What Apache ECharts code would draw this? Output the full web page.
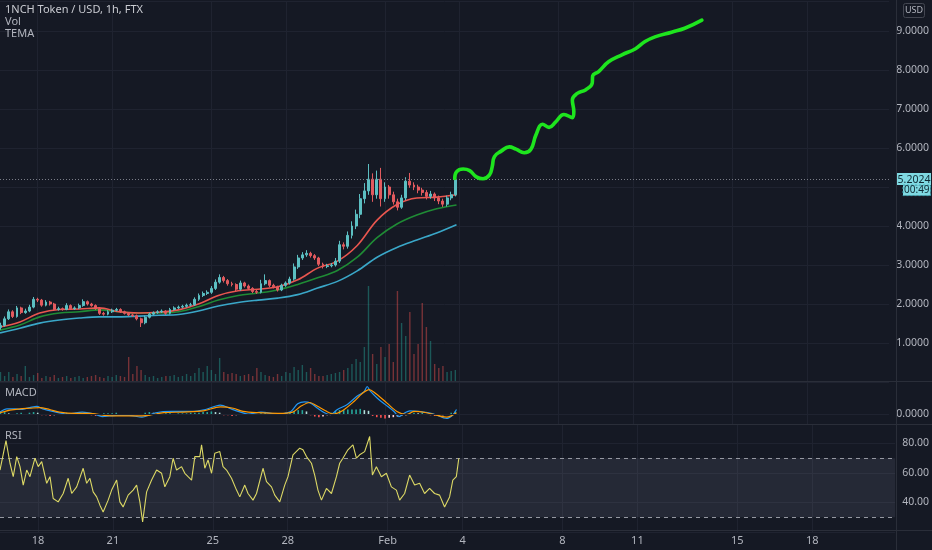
<!DOCTYPE html>
<html><head><meta charset="utf-8">
<script src="https://cdn.jsdelivr.net/npm/echarts@6/dist/echarts.min.js"></script>
<style>html,body{margin:0;padding:0;background:#151924;}#c{width:932px;height:550px;}</style>
</head><body><div id="c"></div><script>
// ---------- DATA ----------
const titleText = '1NCH Token / USD, 1h, FTX';
const firstCandleDay = 16.5;           // Jan 16, 12:00
const candleStepDays = 1 / 6;          // 4-hour aggregation
const opens = [1.40,1.45,1.62,1.80,1.68,1.90,1.78,1.82,1.92,2.12, 2.10,1.97,2.05,2.00,1.86,1.88,1.86,1.96,1.88,1.90, 1.96,2.06,2.00,1.96,1.88,1.76,1.74,1.80,1.84,1.86, 1.80,1.76,1.72,1.70,1.62,1.52,1.66,1.74,1.78,1.80, 1.82,1.76,1.86,1.90,1.92,1.94,1.97,1.98,2.12,2.22, 2.27,2.30,2.40,2.56,2.68,2.60,2.52,2.50,2.38,2.54, 2.46,2.40,2.32,2.30,2.52,2.60,2.48,2.44,2.36,2.48, 2.54,2.64,2.95,3.18,3.26,3.30,3.24,3.18,3.02,2.96, 2.98,3.00,3.10,3.52,3.48,3.76,4.00,4.30,4.70,4.90, 5.20,4.80,5.20,4.70,5.00,4.80,4.62,4.48,4.72,5.15, 5.05,5.00,4.92,4.86,4.76,4.82,4.72,4.64,4.56,4.72, 4.80];
const closes = [1.45,1.62,1.80,1.68,1.90,1.78,1.82,1.92,2.12,2.10, 1.97,2.05,2.00,1.86,1.88,1.86,1.96,1.88,1.90,1.96, 2.06,2.00,1.96,1.88,1.76,1.74,1.80,1.84,1.86,1.80, 1.76,1.72,1.70,1.62,1.52,1.66,1.74,1.78,1.80,1.82, 1.76,1.86,1.90,1.92,1.94,1.97,1.98,2.12,2.22,2.27, 2.30,2.40,2.56,2.68,2.60,2.52,2.50,2.38,2.54,2.46, 2.40,2.32,2.30,2.52,2.60,2.48,2.44,2.36,2.48,2.54, 2.64,2.95,3.18,3.26,3.30,3.24,3.18,3.02,2.96,2.98, 3.00,3.10,3.52,3.48,3.76,4.00,4.30,4.70,4.90,5.20, 4.80,5.20,4.70,5.00,4.80,4.62,4.48,4.72,5.15,5.05, 5.00,4.92,4.86,4.76,4.82,4.72,4.64,4.56,4.72,4.80, 5.2024];
const highs = [1.52,1.68,1.86,1.84,1.95,1.93,1.88,1.98,2.18,2.16, 2.13,2.10,2.08,2.03,1.93,1.91,2.02,1.99,1.94,2.01, 2.12,2.09,2.03,1.99,1.91,1.80,1.84,1.88,1.90,1.89, 1.83,1.79,1.75,1.73,1.65,1.70,1.78,1.81,1.84,1.86, 1.84,1.90,1.94,1.96,1.98,2.01,2.03,2.17,2.27,2.32, 2.35,2.46,2.63,2.76,2.72,2.64,2.57,2.53,2.60,2.57, 2.50,2.43,2.36,2.62,2.76,2.63,2.52,2.47,2.52,2.58, 2.70,3.04,3.26,3.33,3.38,3.34,3.28,3.21,3.06,3.03, 3.05,3.18,3.62,3.58,3.86,4.12,4.42,4.82,5.10,5.59, 5.35,5.42,5.49,5.12,5.05,4.88,4.70,4.80,5.25,5.36, 5.12,5.06,4.98,4.92,4.90,4.86,4.78,4.70,4.78,4.88, 5.26];
const lows = [1.34,1.42,1.59,1.64,1.65,1.74,1.75,1.79,1.89,2.05, 1.93,1.94,1.96,1.82,1.83,1.83,1.84,1.85,1.85,1.87, 1.93,1.96,1.93,1.85,1.72,1.70,1.71,1.77,1.81,1.77, 1.73,1.69,1.67,1.58,1.41,1.48,1.63,1.71,1.75,1.77, 1.72,1.73,1.83,1.87,1.89,1.91,1.94,1.95,2.08,2.18, 2.23,2.26,2.36,2.52,2.55,2.47,2.45,2.33,2.34,2.42, 2.36,2.28,2.26,2.27,2.48,2.43,2.40,2.32,2.33,2.44, 2.50,2.60,2.90,3.13,3.21,3.19,3.13,2.97,2.91,2.92, 2.94,2.96,3.05,3.40,3.42,3.68,3.92,4.20,4.58,4.80, 4.62,4.70,4.50,4.62,4.70,4.55,4.40,4.44,4.66,4.98, 4.92,4.84,4.78,4.68,4.70,4.64,4.56,4.49,4.50,4.66, 4.76];
const volumes = [10,6,10,5,8,6, 16,5,7,9,4,6, 5,7,4,5,6,4, 5,6,4,5,6,7, 5,4,6,5,7,6, 5,25,8,16,12,7, 5,6,4,5,6,6, 7,5,6,8,6,9, 14,10,16,12,8,24, 10,8,9,8,6,7, 8,6,14,10,7,6, 5,8,6,10,9,15, 12,17,10,14,8,6, 6,7,8,9,10,12, 14,18,23,20,35,96, 28,18,35,25,38,20, 91,59,46,70,28,38, 79,55,41,18,14,16, 10,11,12];
const macdHist = [0.02,0.03,0.01,-0.01,0.01,0.02,-0.01,0.02,0.03,0.02,-0.02, -0.02,-0.03,-0.02,-0.01,0.01,0.02,-0.01,0.01,0.02,0.01,-0.01, -0.02,-0.03,-0.02,0.01,0.01,0.01,0.02,-0.01,-0.01,-0.02,-0.02, -0.02,-0.01,0.02,0.03,0.02,0.01,0.00,0.01,0.01,0.00,0.01, 0.01,0.01,0.02,0.02,0.02,0.03,0.03,0.04,0.03,0.02,-0.02, -0.02,-0.03,-0.02,-0.01,0.00,-0.01,0.01,0.00,0.01,0.02,-0.01, -0.01,-0.01,0.00,0.02,0.02,0.05,0.06,0.06,0.04,-0.02,-0.04, -0.05,-0.04,-0.02,0.02,0.05,0.06,0.06,0.07,0.07,0.07,0.08, 0.06,0.05,-0.03,-0.05,-0.06,-0.07,-0.06,-0.05,-0.04,-0.03,-0.02, 0.01,0.02,0.01,0.02,-0.01,-0.02,-0.03,-0.03,-0.02,-0.01,0.02,0.04];

const temaDays  = [16.48,17.28,18.08,18.88,19.68,20.48,21.28,22.08,22.88,23.68,24.48,25.28,26.08,26.88,27.68,28.48,29.28,30.08,30.88,31.68,32.48,33.28,34.08,34.88];
const temaRed   = [1.41,1.54,1.77,1.86,1.87,1.90,1.80,1.77,1.79,1.85,2.00,2.22,2.34,2.38,2.44,2.62,2.92,3.10,3.50,4.15,4.55,4.72,4.74,4.80];
const temaGreen = [1.33,1.46,1.67,1.77,1.80,1.85,1.80,1.77,1.77,1.80,1.93,2.10,2.22,2.28,2.36,2.50,2.67,2.86,3.20,3.70,4.05,4.28,4.44,4.54];
const temaCyan  = [1.26,1.38,1.51,1.59,1.64,1.67,1.67,1.69,1.71,1.73,1.82,1.95,2.04,2.10,2.15,2.24,2.41,2.58,2.85,3.20,3.45,3.64,3.82,4.03];

const macdDays = [16.48,16.76,17.08,17.28,17.68,17.96,18.20,18.60,19.16,19.80,20.28,20.60,21.16,21.68,22.20,22.76,23.40,24.20,24.76,25.36,25.80,26.08,26.48,27.00,27.68,28.20,28.48,28.76,29.00,29.28,29.56,29.80,30.08,30.48,30.88,31.16,31.28,31.40,31.68,32.00,32.36,32.56,32.80,33.00,33.36,33.96,34.48,34.72,34.88];
const macdLine = [0.03,0.08,0.08,0.07,0.10,0.12,0.08,0.04,0.00,0.03,0.00,-0.04,-0.02,-0.02,-0.05,0.02,0.04,0.04,0.07,0.14,0.08,0.04,0.00,0.03,0.00,0.04,0.16,0.19,0.17,0.09,0.02,-0.01,0.07,0.15,0.28,0.35,0.43,0.36,0.25,0.15,0.04,-0.04,0.02,0.05,0.04,0.00,-0.07,-0.02,0.07];
const signalDays = [16.48,16.88,17.28,17.68,18.08,18.48,18.88,19.48,20.08,20.68,21.28,21.88,22.48,23.08,23.88,24.68,25.36,25.88,26.28,26.88,27.68,28.28,28.60,28.96,29.28,29.60,29.92,30.28,30.76,31.08,31.36,31.56,32.08,32.48,32.88,33.16,33.68,34.48,34.88];
const signalLine = [0.02,0.06,0.08,0.09,0.10,0.07,0.03,0.01,0.01,-0.02,-0.03,-0.03,-0.02,0.02,0.03,0.05,0.11,0.09,0.04,0.02,0.01,0.03,0.12,0.18,0.12,0.05,0.00,0.05,0.20,0.32,0.38,0.34,0.17,0.04,-0.01,0.04,0.02,-0.05,0.02];

const rsiDays = [16.48,16.72,16.88,17.01,17.15,17.28,17.41,17.55,17.68,17.88, 18.01,18.15,18.35,18.48,18.61,18.81,19.01,19.21,19.35,19.55, 19.81,19.95,20.08,20.21,20.35,20.48,20.61,20.81,20.95,21.15, 21.28,21.41,21.61,21.81,21.95,22.08,22.19,22.35,22.55,22.75, 22.95,23.08,23.28,23.41,23.55,23.75,23.88,24.01,24.15,24.28, 24.48,24.55,24.68,24.81,24.95,25.08,25.28,25.41,25.55,25.75, 25.95,26.08,26.28,26.41,26.61,26.75,27.01,27.15,27.35,27.48, 27.68,27.88,28.01,28.21,28.48,28.61,28.75,28.95,29.08,29.21, 29.35,29.55,29.75,29.95,30.08,30.21,30.41,30.61,30.75,30.88, 31.08,31.28,31.39,31.55,31.75,31.95,32.15,32.35,32.48,32.68, 32.88,33.08,33.28,33.48,33.68,33.88,34.08,34.28,34.48,34.61, 34.75,34.85];
const rsiVals = [62.0,82.0,66.6,57.5,71.1,64.3,51.8,62.0,57.5,70.0, 64.3,67.7,53.0,57.5,42.7,40.4,46.1,56.4,46.1,50.6, 63.2,53.0,56.4,47.2,43.8,38.2,33.6,41.6,48.4,55.2, 40.4,37.0,45.0,48.4,51.8,40.4,26.8,47.2,55.2,62.0, 59.8,50.6,57.5,70.0,62.0,64.3,59.8,57.5,55.2,71.1, 71.1,79.1,63.2,68.8,59.8,73.4,74.5,64.3,62.0,56.4, 48.4,43.8,51.8,46.1,41.6,46.1,63.2,54.1,50.6,45.0, 40.4,51.8,57.5,72.3,76.8,75.7,71.1,66.6,58.6,48.4, 41.6,49.5,46.1,57.5,66.6,70.0,75.7,79.1,70.0,72.3, 74.5,84.7,58.6,64.3,57.5,59.8,50.6,48.4,41.6,46.1, 58.6,51.8,53.0,46.1,49.5,46.1,45.0,37.0,43.8,55.2, 57.5,70.0];

const projDays   = [34.81,34.88,35.15,35.41,35.68,35.95,36.21,36.32,36.41,36.68,37.01,37.28,37.61,37.88,38.08,38.35,38.61,38.88,39.21,39.55,39.61,39.55,39.75,40.08,40.35,40.37,40.61,41.01,41.55,42.08,42.48,42.88,43.55,44.08,44.77];
const projPrices = [5.22,5.39,5.46,5.42,5.26,5.21,5.31,5.52,5.78,5.92,6.03,5.97,5.88,5.97,6.33,6.61,6.53,6.67,6.86,6.78,6.93,7.23,7.40,7.49,7.66,7.85,7.96,8.21,8.39,8.54,8.73,8.85,8.97,9.07,9.28];

const dayTickValues = [18,21,25,28,32,35,39,42,46,49];
const dayTickLabels = ['18','21','25','28','Feb','4','8','11','15','18'];
const rsiUpper = 70, rsiLower = 30;
const countdownText = '00:49';

// ---------- STYLE ----------
const FONT = 'Noto Sans, DejaVu Sans, sans-serif';
const TXT = '#b2b5be';
const GRID = '#1f2330';
const SEP = '#2a2e39';
const UP = '#5cbfc2', DOWN = '#e25a5e';
const VUP = 'rgba(38,166,154,0.45)', VDOWN = 'rgba(239,83,80,0.45)';
const X_MIN = 16.48, X_MAX = 16.48 + 896 / 25;

const candleDays = closes.map((_, i) => firstCandleDay + i * candleStepDays);
const candleData = candleDays.map((d, i) => [d, opens[i], closes[i], lows[i], highs[i]]);
const lastPrice = closes[closes.length - 1];
const pair = (xs, ys) => xs.map((x, i) => [x, ys[i]]);

function xAxis(gridIndex, showLabels) {
  return {
    type: 'value', gridIndex, min: X_MIN, max: X_MAX,
    axisLine: { show: false },
    axisTick: { show: false, customValues: dayTickValues },
    axisLabel: {
      show: showLabels, customValues: dayTickValues, color: TXT, fontSize: 11, fontFamily: FONT, margin: 3,
      formatter: v => { const k = dayTickValues.indexOf(Math.round(v)); return k >= 0 ? dayTickLabels[k] : ''; }
    },
    splitLine: { show: true, lineStyle: { color: GRID, width: 1 } }
  };
}

const chart = echarts.init(document.getElementById('c'), null, { renderer: 'canvas' });
chart.setOption({
  backgroundColor: '#151924',
  animation: false,
  textStyle: { fontFamily: FONT },
  grid: [
    { left: 0, top: 1, width: 896, height: 381 },
    { left: 0, top: 382, width: 896, height: 42 },
    { left: 0, top: 424, width: 896, height: 108 }
  ],
  xAxis: [xAxis(0, false), xAxis(1, false), xAxis(2, true)],
  yAxis: [
    { type: 'value', gridIndex: 0, position: 'right', min: 0, max: 381 / 39, interval: 1,
      axisLine: { show: false }, axisTick: { show: false },
      axisLabel: { color: TXT, fontSize: 10.5, fontFamily: FONT, margin: 7, showMaxLabel: false, showMinLabel: false,
        // the 5.0000 label sits under the last-price tag, as in the original
        formatter: v => (Math.round(v) === Math.round(lastPrice) ? '' : v.toFixed(4)) },
      splitLine: { lineStyle: { color: GRID } } },
    { type: 'value', gridIndex: 0, min: 0, max: 381, show: false, splitLine: { show: false } },
    { type: 'value', gridIndex: 1, position: 'right', min: -0.15625, max: 0.5,
      axisLine: { show: false }, axisTick: { show: false, customValues: [0] },
      axisLabel: { customValues: [0], color: TXT, fontSize: 10.5, fontFamily: FONT, margin: 7, formatter: v => v.toFixed(4) },
      splitLine: { show: false } },
    { type: 'value', gridIndex: 2, position: 'right', min: 20, max: 93.2, interval: 20,
      axisLine: { show: false }, axisTick: { show: false },
      axisLabel: { color: TXT, fontSize: 10.5, fontFamily: FONT, margin: 7, showMaxLabel: false, showMinLabel: false,
        formatter: v => v.toFixed(2) },
      splitLine: { lineStyle: { color: GRID } } }
  ],
  series: [
    { type: 'bar', xAxisIndex: 0, yAxisIndex: 1, barWidth: 1.4, z: 1,
      data: candleDays.map((d, i) => ({ value: [d, volumes[i]], itemStyle: { color: closes[i] >= opens[i] ? VUP : VDOWN } })) },
    { type: 'line', xAxisIndex: 0, yAxisIndex: 0, data: pair(temaDays, temaCyan), smooth: 0.35, showSymbol: false, symbol: 'none',
      lineStyle: { color: '#3aa7c8', width: 1.6 }, z: 3 },
    { type: 'line', xAxisIndex: 0, yAxisIndex: 0, data: pair(temaDays, temaGreen), smooth: 0.35, showSymbol: false, symbol: 'none',
      lineStyle: { color: '#1f8b35', width: 1.6 }, z: 3 },
    { type: 'line', xAxisIndex: 0, yAxisIndex: 0, data: pair(temaDays, temaRed), smooth: 0.35, showSymbol: false, symbol: 'none',
      lineStyle: { color: '#e9564f', width: 1.6 }, z: 3 },
    { type: 'candlestick', xAxisIndex: 0, yAxisIndex: 0, data: candleData, encode: { x: 0, y: [1, 2, 3, 4] },
      barWidth: 2.4, z: 4,
      itemStyle: { color: UP, color0: DOWN, borderColor: UP, borderColor0: DOWN, borderWidth: 1 },
      markLine: { silent: true, symbol: 'none', label: { show: false },
        lineStyle: { type: [1, 2], color: '#7a7d88', width: 1 }, data: [{ yAxis: lastPrice }] } },
    { type: 'line', xAxisIndex: 0, yAxisIndex: 0, data: pair(projDays, projPrices), smooth: 0.45, showSymbol: false, symbol: 'none',
      lineStyle: { color: '#1ee51e', width: 3.6, cap: 'round', join: 'round' }, z: 6 },
    { type: 'bar', xAxisIndex: 1, yAxisIndex: 2, barWidth: 1.6,
      data: candleDays.map((d, i) => {
        const v = macdHist[i], p = i > 0 ? macdHist[i - 1] : v;
        const col = v >= 0 ? (v >= p ? '#26a69a' : '#b2dfdb') : (v <= p ? '#ff5252' : '#ffcdd2');
        return { value: [d, v], itemStyle: { color: col } };
      }),
      markLine: { silent: true, symbol: 'none', label: { show: false }, lineStyle: { type: 'solid', color: GRID, width: 1 }, data: [{ yAxis: 0 }] } },
    { type: 'line', xAxisIndex: 1, yAxisIndex: 2, data: pair(macdDays, macdLine), smooth: 0.3, showSymbol: false, symbol: 'none',
      lineStyle: { color: '#2196f3', width: 1.2 } },
    { type: 'line', xAxisIndex: 1, yAxisIndex: 2, data: pair(signalDays, signalLine), smooth: 0.3, showSymbol: false, symbol: 'none',
      lineStyle: { color: '#ff9800', width: 1.2 } },
    { type: 'line', xAxisIndex: 2, yAxisIndex: 3, data: pair(rsiDays, rsiVals), showSymbol: false, symbol: 'none',
      lineStyle: { color: '#dcd865', width: 1.1 }, z: 5,
      markArea: { silent: true, itemStyle: { color: 'rgba(150,152,175,0.13)' }, data: [[{ yAxis: rsiLower }, { yAxis: rsiUpper }]] },
      markLine: { silent: true, symbol: 'none', label: { show: false },
        lineStyle: { type: [4, 4], color: '#9598a1', width: 1 }, data: [{ yAxis: rsiUpper }, { yAxis: rsiLower }] } }
  ]
});

const py = chart.convertToPixel({ yAxisIndex: 0 }, lastPrice);
chart.setOption({
  graphic: [
    { type: 'rect', shape: { x: 0, y: 381, width: 932, height: 1 }, style: { fill: SEP }, z: 50, silent: true },
    { type: 'rect', shape: { x: 0, y: 424, width: 932, height: 1 }, style: { fill: SEP }, z: 50, silent: true },
    { type: 'rect', shape: { x: 0, y: 530, width: 932, height: 1 }, style: { fill: SEP }, z: 50, silent: true },
    { type: 'rect', shape: { x: 896, y: 0, width: 1, height: 550 }, style: { fill: SEP }, z: 50, silent: true },
    { type: 'text', left: 5, top: 4, style: { text: titleText, fill: '#c9cbd1', font: '11px ' + FONT }, z: 60 },
    { type: 'text', left: 5, top: 16, style: { text: 'Vol', fill: TXT, font: '11px ' + FONT }, z: 60 },
    { type: 'text', left: 5, top: 28, style: { text: 'TEMA', fill: TXT, font: '11px ' + FONT }, z: 60 },
    { type: 'text', left: 5, top: 387, style: { text: 'MACD', fill: TXT, font: '11px ' + FONT }, z: 60 },
    { type: 'text', left: 5, top: 430, style: { text: 'RSI', fill: TXT, font: '11px ' + FONT }, z: 60 },
    { type: 'rect', shape: { x: 903.5, y: 3.5, width: 21, height: 14, r: 2 }, style: { fill: '#151924', stroke: '#434651', lineWidth: 1 }, z: 60 },
    { type: 'text', x: 914, y: 10.5, style: { text: 'USD', fill: TXT, font: '9px ' + FONT, align: 'center', verticalAlign: 'middle' }, z: 61 },
    { type: 'rect', shape: { x: 897, y: py - 6, width: 34, height: 12 }, style: { fill: '#7fd9e2' }, z: 70 },
    { type: 'text', x: 914, y: py + 0.5, style: { text: lastPrice.toFixed(4), fill: '#0e2a33', font: '10.5px ' + FONT, align: 'center', verticalAlign: 'middle' }, z: 71 },
    { type: 'rect', shape: { x: 903, y: py + 6, width: 27.5, height: 10.5 }, style: { fill: '#7fd9e2', stroke: '#3fa9b5', lineWidth: 1, lineDash: [2, 2] }, z: 70 },
    { type: 'text', x: 916.8, y: py + 11.5, style: { text: countdownText, fill: '#0e2a33', font: '10px ' + FONT, align: 'center', verticalAlign: 'middle' }, z: 71 }
  ]
});
</script></body></html>
